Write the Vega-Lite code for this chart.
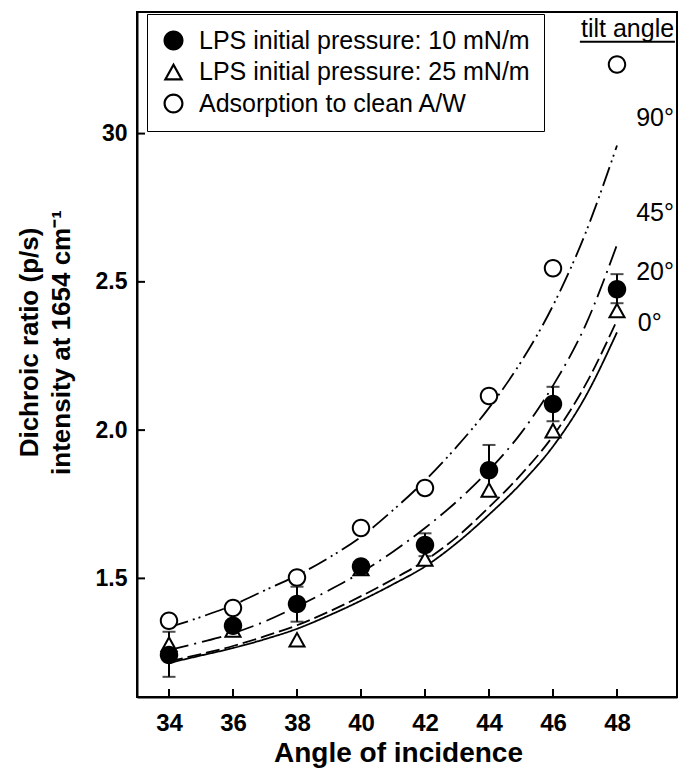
{
  "$schema": "https://vega.github.io/schema/vega-lite/v6.json",
  "width": 540,
  "height": 685,
  "autosize": "none",
  "padding": {"left": 137, "top": 12, "right": 2, "bottom": 71},
  "background": "white",
  "config": {
    "font": "Liberation Sans",
    "view": {"stroke": "black", "strokeWidth": 2},
    "legend": {"strokeColor": "black", "fillColor": "white"},
    "axis": {
      "grid": false,
      "ticks": false,
      "domainColor": "black",
      "domainWidth": 2,
      "labelColor": "black",
      "titleColor": "black",
      "labelFontWeight": "bold",
      "titleFontWeight": "bold",
      "labelFont": "Liberation Sans",
      "titleFont": "Liberation Sans"
    }
  },
  "datasets": {
    "curves": [
      {"angle": 34, "ratio": 1.215, "tilt": "0°"},
      {"angle": 35, "ratio": 1.24, "tilt": "0°"},
      {"angle": 36, "ratio": 1.265, "tilt": "0°"},
      {"angle": 37, "ratio": 1.295, "tilt": "0°"},
      {"angle": 38, "ratio": 1.33, "tilt": "0°"},
      {"angle": 39, "ratio": 1.375, "tilt": "0°"},
      {"angle": 40, "ratio": 1.425, "tilt": "0°"},
      {"angle": 41, "ratio": 1.48, "tilt": "0°"},
      {"angle": 42, "ratio": 1.54, "tilt": "0°"},
      {"angle": 43, "ratio": 1.62, "tilt": "0°"},
      {"angle": 44, "ratio": 1.715, "tilt": "0°"},
      {"angle": 45, "ratio": 1.82, "tilt": "0°"},
      {"angle": 46, "ratio": 1.945, "tilt": "0°"},
      {"angle": 47, "ratio": 2.11, "tilt": "0°"},
      {"angle": 48, "ratio": 2.33, "tilt": "0°"},
      {"angle": 34, "ratio": 1.22, "tilt": "20°"},
      {"angle": 35, "ratio": 1.245, "tilt": "20°"},
      {"angle": 36, "ratio": 1.272, "tilt": "20°"},
      {"angle": 37, "ratio": 1.305, "tilt": "20°"},
      {"angle": 38, "ratio": 1.342, "tilt": "20°"},
      {"angle": 39, "ratio": 1.388, "tilt": "20°"},
      {"angle": 40, "ratio": 1.44, "tilt": "20°"},
      {"angle": 41, "ratio": 1.497, "tilt": "20°"},
      {"angle": 42, "ratio": 1.56, "tilt": "20°"},
      {"angle": 43, "ratio": 1.64, "tilt": "20°"},
      {"angle": 44, "ratio": 1.74, "tilt": "20°"},
      {"angle": 45, "ratio": 1.85, "tilt": "20°"},
      {"angle": 46, "ratio": 1.98, "tilt": "20°"},
      {"angle": 47, "ratio": 2.15, "tilt": "20°"},
      {"angle": 48, "ratio": 2.37, "tilt": "20°"},
      {"angle": 34, "ratio": 1.258, "tilt": "45°"},
      {"angle": 35, "ratio": 1.285, "tilt": "45°"},
      {"angle": 36, "ratio": 1.315, "tilt": "45°"},
      {"angle": 37, "ratio": 1.355, "tilt": "45°"},
      {"angle": 38, "ratio": 1.405, "tilt": "45°"},
      {"angle": 39, "ratio": 1.46, "tilt": "45°"},
      {"angle": 40, "ratio": 1.52, "tilt": "45°"},
      {"angle": 41, "ratio": 1.59, "tilt": "45°"},
      {"angle": 42, "ratio": 1.67, "tilt": "45°"},
      {"angle": 43, "ratio": 1.76, "tilt": "45°"},
      {"angle": 44, "ratio": 1.865, "tilt": "45°"},
      {"angle": 45, "ratio": 1.99, "tilt": "45°"},
      {"angle": 46, "ratio": 2.15, "tilt": "45°"},
      {"angle": 47, "ratio": 2.35, "tilt": "45°"},
      {"angle": 48, "ratio": 2.625, "tilt": "45°"},
      {"angle": 34, "ratio": 1.335, "tilt": "90°"},
      {"angle": 35, "ratio": 1.37, "tilt": "90°"},
      {"angle": 36, "ratio": 1.41, "tilt": "90°"},
      {"angle": 37, "ratio": 1.46, "tilt": "90°"},
      {"angle": 38, "ratio": 1.51, "tilt": "90°"},
      {"angle": 39, "ratio": 1.57, "tilt": "90°"},
      {"angle": 40, "ratio": 1.64, "tilt": "90°"},
      {"angle": 41, "ratio": 1.73, "tilt": "90°"},
      {"angle": 42, "ratio": 1.83, "tilt": "90°"},
      {"angle": 43, "ratio": 1.945, "tilt": "90°"},
      {"angle": 44, "ratio": 2.075, "tilt": "90°"},
      {"angle": 45, "ratio": 2.23, "tilt": "90°"},
      {"angle": 46, "ratio": 2.42, "tilt": "90°"},
      {"angle": 47, "ratio": 2.66, "tilt": "90°"},
      {"angle": 48, "ratio": 2.96, "tilt": "90°"}
    ],
    "points": [
      {"angle": 34, "ratio": 1.242, "series": "LPS initial pressure: 10 mN/m", "lo": 1.168, "hi": 1.32},
      {"angle": 36, "ratio": 1.34, "series": "LPS initial pressure: 10 mN/m"},
      {"angle": 38, "ratio": 1.414, "series": "LPS initial pressure: 10 mN/m", "lo": 1.354, "hi": 1.472},
      {"angle": 40, "ratio": 1.54, "series": "LPS initial pressure: 10 mN/m"},
      {"angle": 42, "ratio": 1.613, "series": "LPS initial pressure: 10 mN/m", "lo": 1.575, "hi": 1.652},
      {"angle": 44, "ratio": 1.865, "series": "LPS initial pressure: 10 mN/m", "lo": 1.78, "hi": 1.95},
      {"angle": 46, "ratio": 2.088, "series": "LPS initial pressure: 10 mN/m", "lo": 2.03, "hi": 2.146},
      {"angle": 48, "ratio": 2.475, "series": "LPS initial pressure: 10 mN/m", "lo": 2.428, "hi": 2.526},
      {"angle": 34, "ratio": 1.28, "series": "LPS initial pressure: 25 mN/m"},
      {"angle": 36, "ratio": 1.328, "series": "LPS initial pressure: 25 mN/m"},
      {"angle": 38, "ratio": 1.295, "series": "LPS initial pressure: 25 mN/m"},
      {"angle": 40, "ratio": 1.535, "series": "LPS initial pressure: 25 mN/m"},
      {"angle": 42, "ratio": 1.567, "series": "LPS initial pressure: 25 mN/m"},
      {"angle": 44, "ratio": 1.8, "series": "LPS initial pressure: 25 mN/m"},
      {"angle": 46, "ratio": 2.0, "series": "LPS initial pressure: 25 mN/m"},
      {"angle": 48, "ratio": 2.405, "series": "LPS initial pressure: 25 mN/m"},
      {"angle": 34, "ratio": 1.357, "series": "Adsorption to clean A/W"},
      {"angle": 36, "ratio": 1.4, "series": "Adsorption to clean A/W"},
      {"angle": 38, "ratio": 1.503, "series": "Adsorption to clean A/W"},
      {"angle": 40, "ratio": 1.67, "series": "Adsorption to clean A/W"},
      {"angle": 42, "ratio": 1.805, "series": "Adsorption to clean A/W"},
      {"angle": 44, "ratio": 2.115, "series": "Adsorption to clean A/W"},
      {"angle": 46, "ratio": 2.546, "series": "Adsorption to clean A/W"},
      {"angle": 48, "ratio": 3.233, "series": "Adsorption to clean A/W"}
    ],
    "labels": [
      {"angle": 48.6, "ratio": 3.054, "text": "90°"},
      {"angle": 48.6, "ratio": 2.733, "text": "45°"},
      {"angle": 48.6, "ratio": 2.534, "text": "20°"},
      {"angle": 48.65, "ratio": 2.36, "text": "0°"}
    ],
    "header": [
      {"angle": 48.33, "ratio": 3.351, "text": "tilt angle", "angle2": 49.81, "angle1": 46.84, "under": 3.31}
    ],
    "xticks": [
      {"angle": 34, "base": 1.1, "top": 1.127},
      {"angle": 36, "base": 1.1, "top": 1.127},
      {"angle": 38, "base": 1.1, "top": 1.127},
      {"angle": 40, "base": 1.1, "top": 1.127},
      {"angle": 42, "base": 1.1, "top": 1.127},
      {"angle": 44, "base": 1.1, "top": 1.127},
      {"angle": 46, "base": 1.1, "top": 1.127},
      {"angle": 48, "base": 1.1, "top": 1.127}
    ],
    "yticks": [
      {"ratio": 1.5, "left": 33, "right": 33.25},
      {"ratio": 2.0, "left": 33, "right": 33.25},
      {"ratio": 2.5, "left": 33, "right": 33.25},
      {"ratio": 3.0, "left": 33, "right": 33.25}
    ]
  },
  "layer": [
    {
      "data": {"name": "curves"},
      "mark": {"type": "line", "color": "black", "strokeWidth": 1.8, "interpolate": "monotone"},
      "encoding": {
        "x": {
          "field": "angle", "type": "quantitative",
          "scale": {"domain": [33, 49.875], "nice": false, "zero": false},
          "axis": {
            "values": [34, 36, 38, 40, 42, 44, 46, 48],
            "title": "Angle of incidence",
            "labelFontSize": 24,
            "labelPadding": 14,
            "titleFontSize": 28,
            "titlePadding": 4,
            "titleX": 261
          }
        },
        "y": {
          "field": "ratio", "type": "quantitative",
          "scale": {"domain": [1.1, 3.41], "nice": false, "zero": false},
          "axis": {
            "values": [1.5, 2.0, 2.5, 3.0],
            "labelExpr": "datum.value == 3 ? '30' : format(datum.value, '.1f')",
            "title": ["Dichroic ratio (p/s)", "intensity at 1654 cm⁻¹"],
            "labelFontSize": 23,
            "labelPadding": 10,
            "titleFontSize": 26,
            "titleLineHeight": 32,
            "titlePadding": 21,
            "titleY": 330
          }
        },
        "strokeDash": {
          "field": "tilt", "type": "nominal",
          "scale": {"domain": ["0°", "20°", "45°", "90°"], "range": [[1, 0], [14, 5], [20, 6, 2, 6], [20, 5, 2, 4, 2, 5]]},
          "legend": null
        }
      }
    },
    {
      "data": {"name": "xticks"},
      "mark": {"type": "rule", "color": "black", "strokeWidth": 2},
      "encoding": {
        "x": {"field": "angle", "type": "quantitative"},
        "y": {"field": "base", "type": "quantitative"},
        "y2": {"field": "top"}
      }
    },
    {
      "data": {"name": "yticks"},
      "mark": {"type": "rule", "color": "black", "strokeWidth": 2},
      "encoding": {
        "y": {"field": "ratio", "type": "quantitative"},
        "x": {"field": "left", "type": "quantitative"},
        "x2": {"field": "right"}
      }
    },
    {
      "data": {"name": "points"},
      "mark": {"type": "rule", "color": "black", "strokeWidth": 2},
      "encoding": {
        "x": {"field": "angle", "type": "quantitative"},
        "y": {"field": "lo", "type": "quantitative"},
        "y2": {"field": "hi"}
      }
    },
    {
      "data": {"name": "points"},
      "mark": {"type": "tick", "color": "black", "orient": "horizontal", "size": 13, "thickness": 2},
      "encoding": {
        "x": {"field": "angle", "type": "quantitative"},
        "y": {"field": "lo", "type": "quantitative"}
      }
    },
    {
      "data": {"name": "points"},
      "mark": {"type": "tick", "color": "black", "orient": "horizontal", "size": 13, "thickness": 2},
      "encoding": {
        "x": {"field": "angle", "type": "quantitative"},
        "y": {"field": "hi", "type": "quantitative"}
      }
    },
    {
      "data": {"name": "points"},
      "transform": [{"filter": "datum.series === 'Adsorption to clean A/W'"}],
      "mark": {"type": "point", "filled": true, "color": "white", "shape": "circle", "size": 300, "opacity": 1, "strokeWidth": 0},
      "encoding": {
        "x": {"field": "angle", "type": "quantitative"},
        "y": {"field": "ratio", "type": "quantitative"}
      }
    },
    {
      "data": {"name": "points"},
      "transform": [{"filter": "datum.series === 'LPS initial pressure: 25 mN/m'"}],
      "mark": {"type": "point", "filled": true, "color": "white", "shape": "triangle-up", "size": 280, "opacity": 1, "strokeWidth": 0},
      "encoding": {
        "x": {"field": "angle", "type": "quantitative"},
        "y": {"field": "ratio", "type": "quantitative"}
      }
    },
    {
      "data": {"name": "points"},
      "mark": {"type": "point", "filled": true, "color": "black", "opacity": 1, "size": 340, "strokeWidth": 0},
      "encoding": {
        "x": {"field": "angle", "type": "quantitative"},
        "y": {"field": "ratio", "type": "quantitative"},
        "shape": {
          "field": "series", "type": "nominal",
          "scale": {
            "domain": ["LPS initial pressure: 10 mN/m", "LPS initial pressure: 25 mN/m", "Adsorption to clean A/W"],
            "range": [
              "M1,0A1,1,0,1,1,-1,0A1,1,0,1,1,1,0Z",
              "M0,-0.9L1,0.9L-1,0.9ZM0,-0.447L-0.626,0.68L0.626,0.68Z",
              "M1,0A1,1,0,1,1,-1,0A1,1,0,1,1,1,0ZM0.78,0A0.78,0.78,0,1,0,-0.78,0A0.78,0.78,0,1,0,0.78,0Z"
            ]
          },
          "legend": {
            "orient": "none", "legendX": 10, "legendY": 2, "title": null,
            "labelFontSize": 25, "labelColor": "black", "labelFont": "Liberation Sans", "labelLimit": 500,
            "symbolSize": 400, "symbolFillColor": "black", "symbolOpacity": 1,
            "padding": 14, "labelOffset": 13, "rowPadding": 5
          }
        }
      }
    },
    {
      "data": {"name": "labels"},
      "mark": {"type": "text", "align": "left", "baseline": "middle", "fontSize": 25, "color": "black", "font": "Liberation Sans"},
      "encoding": {
        "x": {"field": "angle", "type": "quantitative"},
        "y": {"field": "ratio", "type": "quantitative"},
        "text": {"field": "text"}
      }
    },
    {
      "data": {"name": "header"},
      "mark": {"type": "text", "align": "center", "baseline": "middle", "fontSize": 25, "color": "black", "font": "Liberation Sans"},
      "encoding": {
        "x": {"field": "angle", "type": "quantitative"},
        "y": {"field": "ratio", "type": "quantitative"},
        "text": {"field": "text"}
      }
    },
    {
      "data": {"name": "header"},
      "mark": {"type": "rule", "color": "black", "strokeWidth": 2},
      "encoding": {
        "x": {"field": "angle1", "type": "quantitative"},
        "x2": {"field": "angle2"},
        "y": {"field": "under", "type": "quantitative"}
      }
    }
  ]
}
